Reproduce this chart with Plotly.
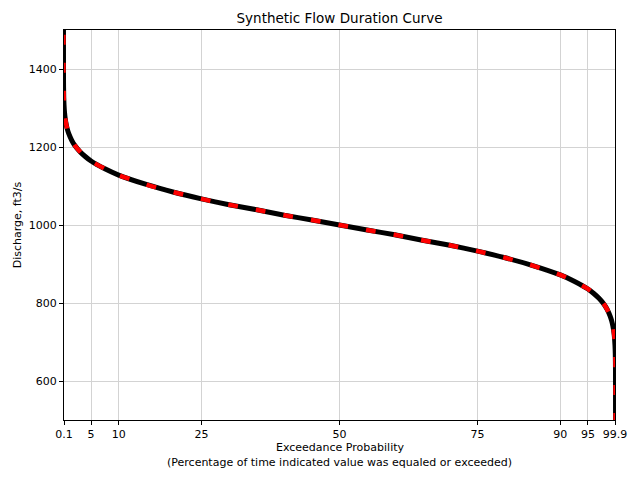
import plotly.graph_objects as go

# Exceedance probability (%) and discharge (ft3/s)
exceedance = [0.0, 0.01, 0.05, 0.1, 0.2, 0.3, 0.5, 0.7, 1.0, 1.5, 2.0, 3.0, 4.0, 5.0, 7.5,
              10, 15, 20, 25, 30, 35, 40, 45, 50, 55, 60, 65, 70, 75, 80, 85,
              90, 92.5, 95, 96, 97, 98, 98.5, 99.0, 99.3, 99.5, 99.7, 99.8, 99.9, 99.95, 99.99, 100.0]
discharge = [1560, 1372, 1329, 1309, 1288, 1275, 1258, 1246, 1233, 1217, 1205, 1188, 1175, 1164, 1144,
             1128, 1104, 1084, 1067, 1052, 1039, 1025, 1013, 1000, 987, 975, 961, 948, 933, 916, 896,
             872, 856, 836, 825, 812, 795, 783, 767, 754, 742, 725, 712, 691, 671, 628, 440]

x_ticks = [0.1, 5, 10, 25, 50, 75, 90, 95, 99.9]
x_tick_labels = ["0.1", "5", "10", "25", "50", "75", "90", "95", "99.9"]
y_ticks = [600, 800, 1000, 1200, 1400]

fig = go.Figure()
fig.add_trace(go.Scatter(x=exceedance, y=discharge, mode="lines",
                         line=dict(color="black", width=5, shape="spline", smoothing=0.6),
                         showlegend=False, hoverinfo="skip"))
fig.add_trace(go.Scatter(x=exceedance, y=discharge, mode="lines",
                         line=dict(color="red", width=4.5, dash="10px,18px", shape="spline", smoothing=0.6),
                         showlegend=False))

split = 1 - (455 - 30) / 390

fig.update_layout(
    width=640, height=480,
    margin=dict(l=64, r=25, t=30, b=60, autoexpand=False),
    paper_bgcolor="white", plot_bgcolor="white",
    font=dict(family="DejaVu Sans", size=11, color="black"),
    title=dict(text="Synthetic Flow Duration Curve", x=0.5, xanchor="center",
               xref="paper", y=1 - 18/480, yanchor="middle", font=dict(size=13.5)),
    xaxis=dict(range=[0.1, 99.9], tickvals=x_ticks, ticktext=x_tick_labels,
               automargin=False,
               showgrid=True, gridcolor="#d3d3d3", gridwidth=1, zeroline=False,
               showline=True, linecolor="black", linewidth=1, mirror=True,
               ticks="outside", ticklen=4, tickcolor="black"),
    yaxis=dict(range=[500, 1500], tickvals=y_ticks,
               automargin=False,
               showgrid=True, gridcolor="#d3d3d3", gridwidth=1, zeroline=False,
               showline=True, linecolor="black", linewidth=1, mirror=True,
               ticks="outside", ticklen=4, tickcolor="black",
               title=dict(text="Discharge, ft3/s", standoff=4, font=dict(size=11))),
    annotations=[
        dict(text="Exceedance Probability", xref="paper", yref="paper",
             x=0.5, y=split, xanchor="center", yanchor="bottom", borderpad=0,
             showarrow=False, font=dict(size=11)),
        dict(text="(Percentage of time indicated value was equaled or exceeded)",
             xref="paper", yref="paper",
             x=0.5, y=split, xanchor="center", yanchor="top", borderpad=0,
             showarrow=False, font=dict(size=11)),
    ],
)

fig.write_html("out.html", post_script="document.body.style.margin='0';",
               config={"displayModeBar": False})
